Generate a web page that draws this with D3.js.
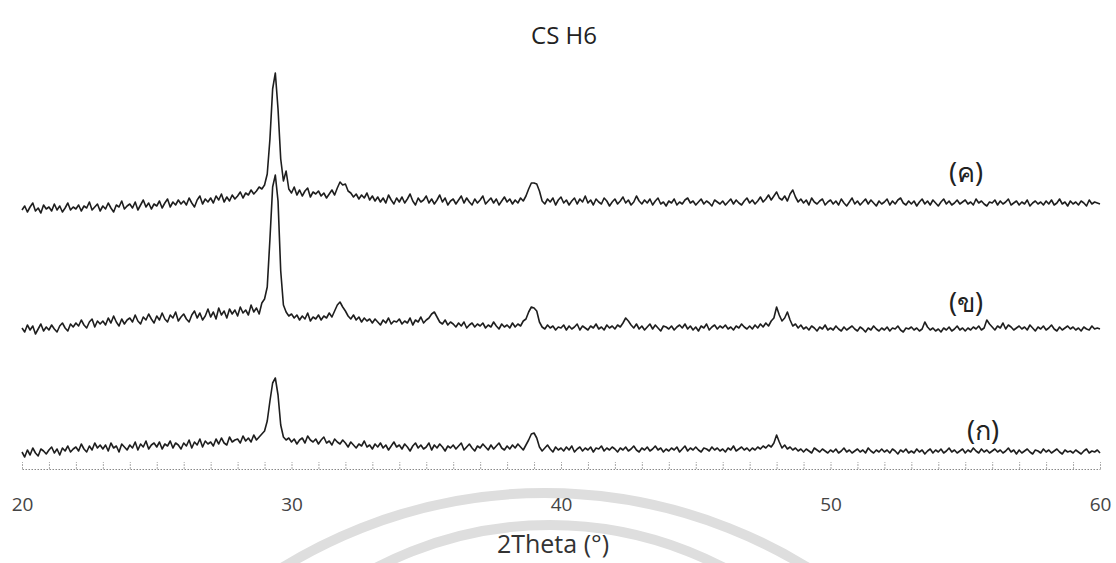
<!DOCTYPE html>
<meta charset="utf-8">
<body style="margin:0;background:white">
  <div id="content"></div>
</body>
<script src="https://cdn.jsdelivr.net/npm/d3@7/dist/d3.min.js"></script>
<script>
// XRD patterns, 2theta 20..60 step 0.1, intensity in arbitrary units
var thetaStart = 20, thetaStep = 0.1;

// (ก)
var traceA = [
  17,12,19,14,21,16,13,20,18,15, 19,22,16,20,14,21,18,23,17,20,
  22,18,25,20,17,23,19,26,21,24, 20,24,18,26,21,23,17,25,22,19,
  24,21,27,19,25,22,28,20,24,26, 22,27,20,25,23,28,21,26,24,20,
  26,23,29,21,27,24,30,22,28,25, 27,23,30,25,31,26,24,32,27,29,
  30,26,33,28,31,27,34,29,32,35, 38,48,68,86,91,74,44,32,29,31,
  27,30,25,29,31,26,33,29,27,30, 25,29,32,26,28,24,30,27,25,29,
  26,22,27,24,21,25,23,28,22,24, 20,25,22,26,21,24,19,23,27,22,
  24,20,25,22,18,23,26,21,24,20, 22,26,19,24,21,25,22,18,23,21,
  24,20,23,26,19,22,25,21,18,23, 21,25,22,19,24,20,23,26,21,19,
  23,20,24,21,25,22,19,24,29,35, 36,31,22,18,21,24,20,17,22,19,
  21,18,22,19,23,17,20,22,18,21, 19,22,17,21,20,23,18,21,19,22,
  20,17,21,19,22,18,20,23,19,17, 21,19,22,18,20,23,19,21,17,20,
  18,21,19,22,17,20,23,18,21,19, 22,19,17,21,20,18,22,19,21,18,
  20,17,21,19,23,18,20,22,19,21, 18,21,19,22,20,23,21,24,22,26,
  34,27,21,24,20,22,19,21,18,20, 17,20,18,16,21,19,17,20,18,16,
  19,17,20,16,18,21,17,19,16,18, 20,17,19,16,21,18,16,19,17,20,
  17,19,16,20,18,15,19,17,20,16, 18,16,20,17,19,15,18,20,16,19,
  17,20,16,18,21,17,19,16,18,20, 16,19,17,21,18,16,20,17,19,16,
  18,20,17,19,16,18,21,17,19,15, 19,16,18,20,17,15,19,18,16,20,
  17,19,16,18,20,17,15,19,17,18, 16,19,17,15,18,20,16,18,17,19,
  16
];

// (ข)
var traceB = [
  21,17,24,19,23,15,20,25,18,22, 19,24,20,17,23,26,21,18,25,22,
  26,23,29,24,21,27,30,22,28,25, 28,24,31,26,33,27,23,30,25,29,
  31,27,34,28,25,32,29,35,30,26, 33,29,36,30,27,34,31,37,28,32,
  35,30,27,34,38,31,36,29,33,40, 32,37,30,41,34,38,31,40,35,39,
  33,42,36,39,34,44,37,41,35,46, 50,62,110,162,174,148,78,44,37,33,
  35,31,34,29,33,30,36,28,32,30, 34,29,33,31,36,32,38,44,47,42,
  38,33,30,34,29,32,27,31,28,30, 26,30,27,24,29,26,31,25,28,27,
  30,25,28,26,31,24,29,27,32,26, 29,31,35,37,32,27,25,29,24,27,
  25,22,26,23,27,21,24,26,22,25, 23,26,21,24,22,27,23,20,25,22,
  24,21,26,22,25,23,28,30,37,42, 41,38,27,22,20,24,21,23,19,22,
  21,24,19,23,20,22,25,19,23,21, 19,23,21,25,20,22,19,24,21,23,
  20,24,22,26,31,28,24,21,25,20, 23,19,22,25,20,24,21,18,23,22,
  20,23,19,22,24,21,25,20,23,19, 22,18,23,21,25,19,22,24,20,23,
  21,24,20,22,19,23,21,25,22,20, 23,20,24,21,25,22,26,23,28,31,
  42,34,28,31,37,29,23,25,21,24, 20,22,19,23,21,18,22,20,24,19,
  21,19,23,20,18,22,19,21,23,20, 18,22,20,17,21,19,23,20,18,21,
  19,22,18,21,20,23,19,17,21,20, 22,19,21,18,20,27,22,19,21,18,
  20,17,21,19,22,18,20,23,19,21, 18,21,19,22,20,23,19,21,29,25,
  22,19,23,21,26,20,24,22,19,21, 23,20,22,19,24,21,18,22,20,23,
  19,21,24,20,18,22,19,21,23,20, 22,19,21,18,22,20,19,23,20,21,
  20
];

// (ค)
var traceC = [
  19,23,17,22,26,18,21,16,24,20, 22,18,25,19,23,17,21,26,19,22,
  20,24,18,23,21,27,19,22,25,18, 23,20,26,21,17,24,22,28,20,23,
  25,21,27,19,24,29,22,26,20,25, 23,28,21,26,30,22,27,24,29,25,
  28,24,31,26,22,29,33,25,30,27, 31,26,33,29,35,27,32,28,34,30,
  33,37,31,36,34,39,35,38,42,40, 44,55,90,140,156,120,70,48,58,40,
  36,42,34,39,33,38,41,32,37,35, 38,33,36,31,35,39,34,41,47,44,
  45,38,36,32,35,30,34,31,36,29, 33,28,32,27,31,26,34,29,25,31,
  27,32,26,30,35,28,24,31,27,29, 33,26,30,25,29,34,27,31,24,28,
  30,25,29,33,26,31,27,24,30,26, 29,33,25,28,31,26,30,24,28,32,
  27,30,25,29,26,31,28,33,40,46, 46,45,38,28,25,30,27,31,24,29,
  32,26,29,24,28,31,25,30,27,33, 26,29,24,30,27,25,31,28,23,27,
  30,25,28,32,26,29,24,27,33,28, 25,29,26,30,24,28,31,25,27,23,
  28,26,30,24,27,25,29,31,26,28, 24,27,30,25,28,26,23,29,27,25,
  28,24,27,30,25,29,26,24,28,31, 26,29,25,28,32,27,30,34,29,33,
  37,31,29,33,28,35,39,32,27,30, 26,29,24,31,27,25,28,30,24,27,
  29,25,28,24,30,26,23,27,31,25, 28,24,27,30,25,29,26,23,28,25,
  27,30,24,28,25,29,31,26,24,28, 25,28,23,27,30,25,28,24,29,26,
  23,27,30,25,28,24,26,29,25,27, 29,25,27,24,30,26,28,25,23,27,
  26,29,24,28,25,27,30,24,26,28, 24,27,25,29,23,26,28,25,27,24,
  28,25,29,24,26,30,25,27,23,28, 25,27,24,28,26,23,29,25,27,26,
  25
];

var traceLabels = ["(ก)", "(ข)", "(ค)"];
var traceOffsets = [0, 120, 240];
var majorTicks = [20, 30, 40, 50, 60];

var chart = { width: 1116, height: 563, left: 22, right: 1100, axisY: 469 };
var labelPos = [ { x: 983, y: 440 }, { x: 966, y: 312 }, { x: 966, y: 182 } ];

var svg = d3.select('#content').append('svg')
  .attr('width', chart.width).attr('height', chart.height)
  .style('display', 'block');

// faint watermark rings from the scanned page
var wm = svg.append('g').attr('fill', 'none').attr('stroke', '#dedede').attr('stroke-width', 10);
wm.append('circle').attr('cx', 545).attr('cy', 992).attr('r', 499);
wm.append('circle').attr('cx', 550).attr('cy', 900).attr('r', 375);

var x = d3.scaleLinear().domain([20, 60]).range([chart.left, chart.right]);
var y = d3.scaleLinear().domain([0, 400]).range([chart.axisY, chart.axisY - 400]);

var series = [traceA, traceB, traceC].map(function (vals, k) {
  return vals.map(function (v, i) {
    return { t: thetaStart + i * thetaStep, v: v + traceOffsets[k] };
  });
});

var line = d3.line()
  .x(function (d) { return x(d.t); })
  .y(function (d) { return y(d.v); });

svg.selectAll('path.trace').data(series).enter().append('path')
  .attr('class', 'trace')
  .attr('d', line)
  .attr('fill', 'none')
  .attr('stroke', '#1e1e1e')
  .attr('stroke-width', 1.6)
  .attr('stroke-linejoin', 'round');

// dotted baseline with 1 degree ticks
var minor = svg.append('g')
  .attr('transform', 'translate(0,' + chart.axisY + ')')
  .call(d3.axisBottom(x).tickValues(d3.range(20, 61, 1))
    .tickSizeInner(-7).tickSizeOuter(0).tickFormat(''));
minor.select('.domain').attr('stroke', '#888').attr('stroke-dasharray', '1.5,1.5');
minor.selectAll('.tick line').attr('stroke', '#aaa').attr('stroke-dasharray', '2,1');

// major labels
var major = svg.append('g')
  .attr('transform', 'translate(0,497)')
  .call(d3.axisBottom(x).tickValues(majorTicks).tickSize(0).tickPadding(0));
major.select('.domain').remove();
major.selectAll('text')
  .attr('font-family', 'Open Sans, sans-serif')
  .attr('font-size', 19)
  .attr('fill', '#444');

svg.selectAll('text.lab').data(traceLabels).enter().append('text')
  .attr('class', 'lab')
  .attr('x', function (d, i) { return labelPos[i].x; })
  .attr('y', function (d, i) { return labelPos[i].y; })
  .attr('text-anchor', 'middle')
  .attr('font-family', 'Noto Sans, sans-serif')
  .attr('font-size', 27)
  .attr('fill', '#222')
  .text(function (d) { return d; });

svg.append('text')
  .attr('x', 564).attr('y', 44)
  .attr('text-anchor', 'middle')
  .attr('font-family', 'Open Sans, sans-serif')
  .attr('font-size', 24)
  .attr('fill', '#222')
  .text('CS H6');

svg.append('text')
  .attr('x', 553).attr('y', 553)
  .attr('text-anchor', 'middle')
  .attr('font-family', 'Open Sans, sans-serif')
  .attr('font-size', 25)
  .attr('fill', '#333')
  .text('2Theta (°)');
</script>
